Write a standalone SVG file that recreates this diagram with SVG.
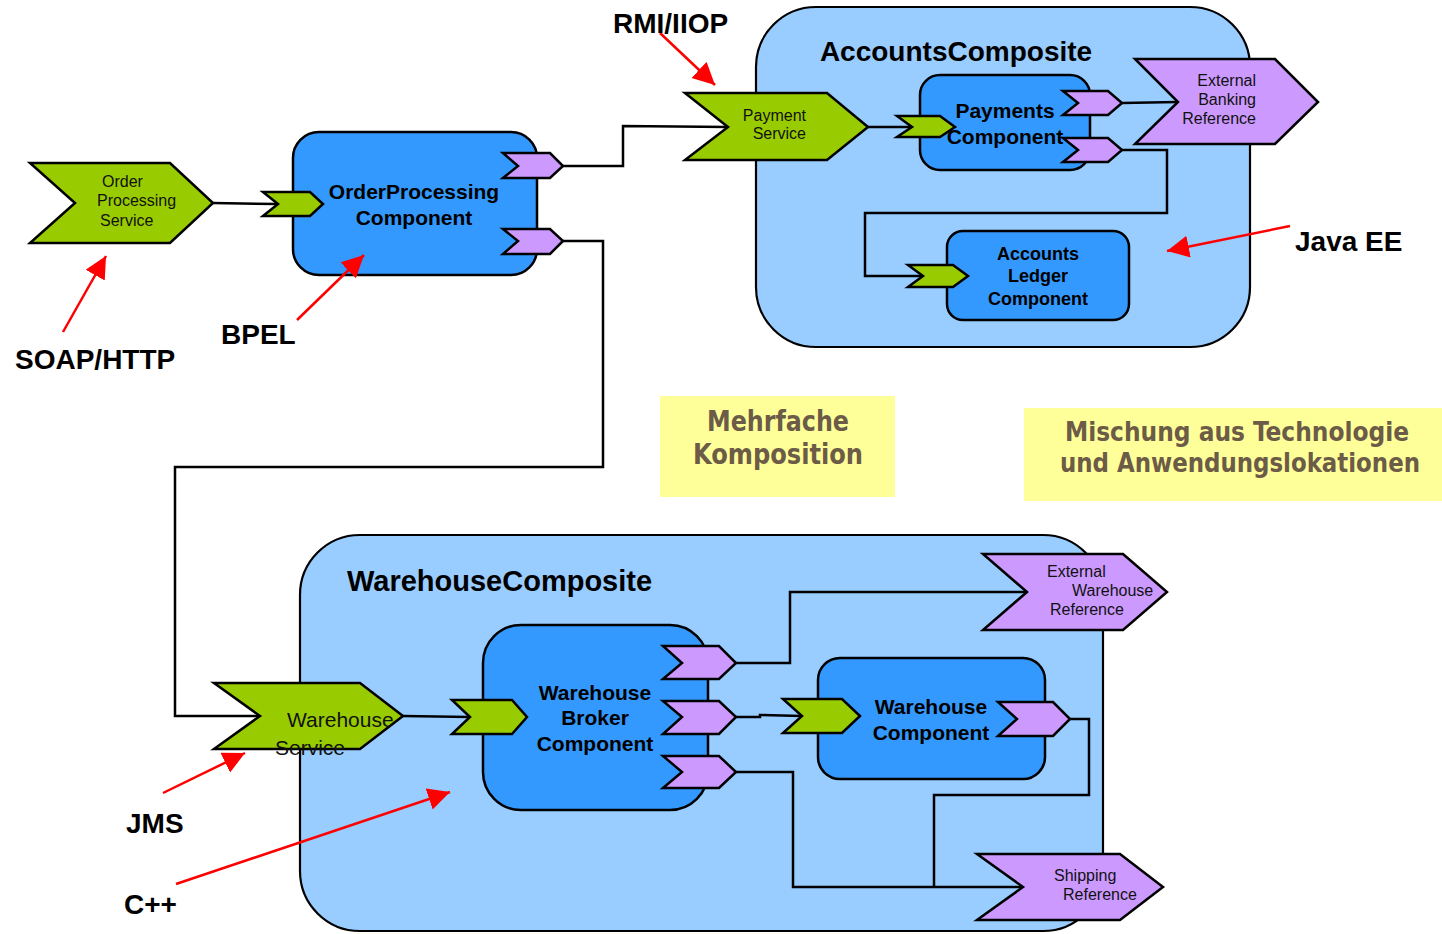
<svg xmlns="http://www.w3.org/2000/svg" width="1442" height="934" viewBox="0 0 1442 934">
  <defs>
    <marker id="redHead" markerUnits="userSpaceOnUse" markerWidth="24" markerHeight="24" refX="22" refY="11" orient="auto">
      <path d="M0,0 L22,11 L0,22 z" fill="#FF0000"/>
    </marker>
    <style>
      .composite { fill: #99CCFF; stroke: #000; stroke-width: 2.2; }
      .component { fill: #3399FF; stroke: #000; stroke-width: 2.5; }
      .service { fill: #99CC00; stroke: #000; stroke-width: 2.5; stroke-linejoin: miter; }
      .reference { fill: #CC99FF; stroke: #000; stroke-width: 2.5; stroke-linejoin: miter; }
      .wire { fill: none; stroke: #000; stroke-width: 2.5; }
      .callout { fill: none; stroke: #FF0000; stroke-width: 2.5; marker-end: url(#redHead); }
      .title { font-family: "Liberation Sans", Arial, sans-serif; font-weight: bold; font-size: 28px; fill: #000; }
      .comp { font-family: "Liberation Sans", Arial, sans-serif; font-weight: bold; font-size: 21px; fill: #000; text-anchor: middle; }
      .ledger { font-size: 18px; }
      .small { font-family: "Liberation Sans", Arial, sans-serif; font-size: 16px; fill: #111; }
      .svcbig { font-size: 21px; }
      .tech { font-family: "Liberation Sans", Arial, sans-serif; font-weight: bold; font-size: 28px; fill: #000; }
      .note { fill: #FFFF99; }
      .notetext { font-family: "DejaVu Sans Condensed", "DejaVu Sans", sans-serif; font-weight: bold; font-size: 28px; fill: #6B5B47; text-anchor: middle; }
      .notewide { font-size: 26px; }
    </style>
  </defs>

  <!-- composites -->
  <g id="AccountsComposite">
    <rect class="composite" x="756" y="7" width="494" height="340" rx="60" ry="60"/>
    <text class="title" x="956" y="61" text-anchor="middle">AccountsComposite</text>
  </g>
  <g id="WarehouseComposite">
    <rect class="composite" x="300" y="535" width="803" height="396" rx="60" ry="60"/>
    <text class="title" x="347" y="591" style="font-size:29px">WarehouseComposite</text>
  </g>

  <!-- notes -->
  <g id="note-mehrfache">
    <rect class="note" x="660" y="396" width="235" height="101"/>
    <text class="notetext" x="778" y="431" textLength="142" lengthAdjust="spacingAndGlyphs">Mehrfache</text>
    <text class="notetext" x="778" y="464" textLength="170" lengthAdjust="spacingAndGlyphs">Komposition</text>
  </g>
  <g id="note-mischung">
    <rect class="note" x="1024" y="408" width="418" height="93"/>
    <text class="notetext notewide" x="1237" y="441" textLength="344" lengthAdjust="spacingAndGlyphs">Mischung aus Technologie</text>
    <text class="notetext notewide" x="1240" y="472" textLength="360" lengthAdjust="spacingAndGlyphs">und Anwendungslokationen</text>
  </g>

  <!-- connectors -->
  <g id="connectors">
    <polyline class="wire" points="213,203 278,204"/>
    <polyline class="wire" points="563,166 623,166 623,126 728,127"/>
    <polyline class="wire" points="563,241 603,241 603,467 175,467 175,716 260,716"/>
    <polyline class="wire" points="868,127 912,127"/>
    <polyline class="wire" points="1122,103 1178,102"/>
    <polyline class="wire" points="1122,150 1167,150 1167,213 865,213 865,276 923,276"/>
    <polyline class="wire" points="403,716 470,717"/>
    <polyline class="wire" points="736,663 790,663 790,592 1027,592"/>
    <polyline class="wire" points="736,717 760,717 760,715 802,716"/>
    <polyline class="wire" points="736,772 793,772 793,887 1023,887"/>
    <polyline class="wire" points="1070,719 1089,719 1089,795 934,795 934,887"/>
  </g>

  <!-- order processing -->
  <g id="OrderProcessingService">
    <polygon class="service" points="30,163 170,163 213,203 170,243 30,243 75,203"/>
    <text class="small" x="102" y="187">Order</text>
    <text class="small" x="97" y="206">Processing</text>
    <text class="small" x="100" y="226">Service</text>
  </g>
  <g id="OrderProcessingComponent">
    <rect class="component" x="293" y="132" width="244" height="143" rx="26" ry="26"/>
    <text class="comp" x="414" y="199">OrderProcessing</text>
    <text class="comp" x="414" y="225">Component</text>
    <polygon class="service" points="263,192 310,192 323,204 310,216 263,216 278,204"/>
    <polygon class="reference" points="503,153 550,153 563,166 550,178 503,178 518,166"/>
    <polygon class="reference" points="503,229 550,229 563,241 550,254 503,254 518,241"/>
  </g>

  <!-- accounts -->
  <g id="PaymentService">
    <polygon class="service" points="685,93 827,93 868,127 827,160 685,160 728,127"/>
    <text class="small" x="806" y="121" text-anchor="end">Payment</text>
    <text class="small" x="806" y="139" text-anchor="end">Service</text>
  </g>
  <g id="PaymentsComponent">
    <rect class="component" x="920" y="75" width="170" height="95" rx="20" ry="20"/>
    <polygon class="service" points="897,116 940,116 955,127 940,137 897,137 912,127"/>
    <text class="comp" x="1005" y="118">Payments</text>
    <text class="comp" x="1005" y="144">Component</text>
    <polygon class="reference" points="1063,91 1108,91 1122,103 1108,115 1063,115 1078,103"/>
    <polygon class="reference" points="1063,138 1108,138 1122,150 1108,162 1063,162 1078,150"/>
  </g>
  <g id="ExternalBankingReference">
    <polygon class="reference" points="1135,59 1275,59 1318,102 1275,144 1135,144 1178,102"/>
    <text class="small" x="1256" y="86" text-anchor="end">External</text>
    <text class="small" x="1256" y="105" text-anchor="end">Banking</text>
    <text class="small" x="1256" y="124" text-anchor="end">Reference</text>
  </g>
  <g id="AccountsLedgerComponent">
    <rect class="component" x="947" y="231" width="182" height="89" rx="16" ry="16"/>
    <polygon class="service" points="908,265 953,265 968,276 953,287 908,287 923,276"/>
    <text class="comp ledger" x="1038" y="260">Accounts</text>
    <text class="comp ledger" x="1038" y="282">Ledger</text>
    <text class="comp ledger" x="1038" y="305">Component</text>
  </g>

  <!-- warehouse -->
  <g id="WarehouseService">
    <polygon class="service" points="214,683 360,683 403,716 360,749 214,749 260,716"/>
    <text class="small svcbig" x="287" y="727">Warehouse</text>
    <text class="small svcbig" x="275" y="755">Service</text>
  </g>
  <g id="WarehouseBrokerComponent">
    <rect class="component" x="483" y="625" width="225" height="185" rx="38" ry="38"/>
    <polygon class="service" points="452,700 512,700 527,717 512,734 452,734 470,717"/>
    <text class="comp" x="595" y="700">Warehouse</text>
    <text class="comp" x="595" y="725">Broker</text>
    <text class="comp" x="595" y="751">Component</text>
    <polygon class="reference" points="663,646 719,646 736,663 719,679 663,679 682,663"/>
    <polygon class="reference" points="663,701 719,701 736,717 719,734 663,734 682,717"/>
    <polygon class="reference" points="663,756 719,756 736,772 719,788 663,788 682,772"/>
  </g>
  <g id="WarehouseComponent">
    <rect class="component" x="818" y="658" width="227" height="121" rx="22" ry="22"/>
    <polygon class="service" points="783,699 842,699 860,716 842,733 783,733 802,716"/>
    <text class="comp" x="931" y="714">Warehouse</text>
    <text class="comp" x="931" y="740">Component</text>
    <polygon class="reference" points="998,702 1053,702 1070,719 1053,736 998,736 1017,719"/>
  </g>
  <g id="ExternalWarehouseReference">
    <polygon class="reference" points="983,554 1123,554 1167,592 1123,630 983,630 1027,592"/>
    <text class="small" x="1047" y="577">External</text>
    <text class="small" x="1072" y="596">Warehouse</text>
    <text class="small" x="1050" y="615">Reference</text>
  </g>
  <g id="ShippingReference">
    <polygon class="reference" points="977,854 1120,854 1163,887 1120,920 977,920 1023,887"/>
    <text class="small" x="1054" y="881">Shipping</text>
    <text class="small" x="1063" y="900">Reference</text>
  </g>

  <!-- technology callouts -->
  <g id="callouts">
    <line class="callout" x1="660" y1="33" x2="715" y2="85"/>
    <line class="callout" x1="63" y1="332" x2="106" y2="256"/>
    <line class="callout" x1="297" y1="320" x2="364" y2="255"/>
    <line class="callout" x1="1290" y1="226" x2="1167" y2="251"/>
    <line class="callout" x1="163" y1="793" x2="245" y2="753"/>
    <line class="callout" x1="176" y1="884" x2="450" y2="792"/>
    <text class="tech" x="613" y="33">RMI/IIOP</text>
    <text class="tech" x="15" y="369">SOAP/HTTP</text>
    <text class="tech" x="221" y="344">BPEL</text>
    <text class="tech" x="1295" y="251">Java EE</text>
    <text class="tech" x="126" y="833">JMS</text>
    <text class="tech" x="124" y="914">C++</text>
  </g>
</svg>
